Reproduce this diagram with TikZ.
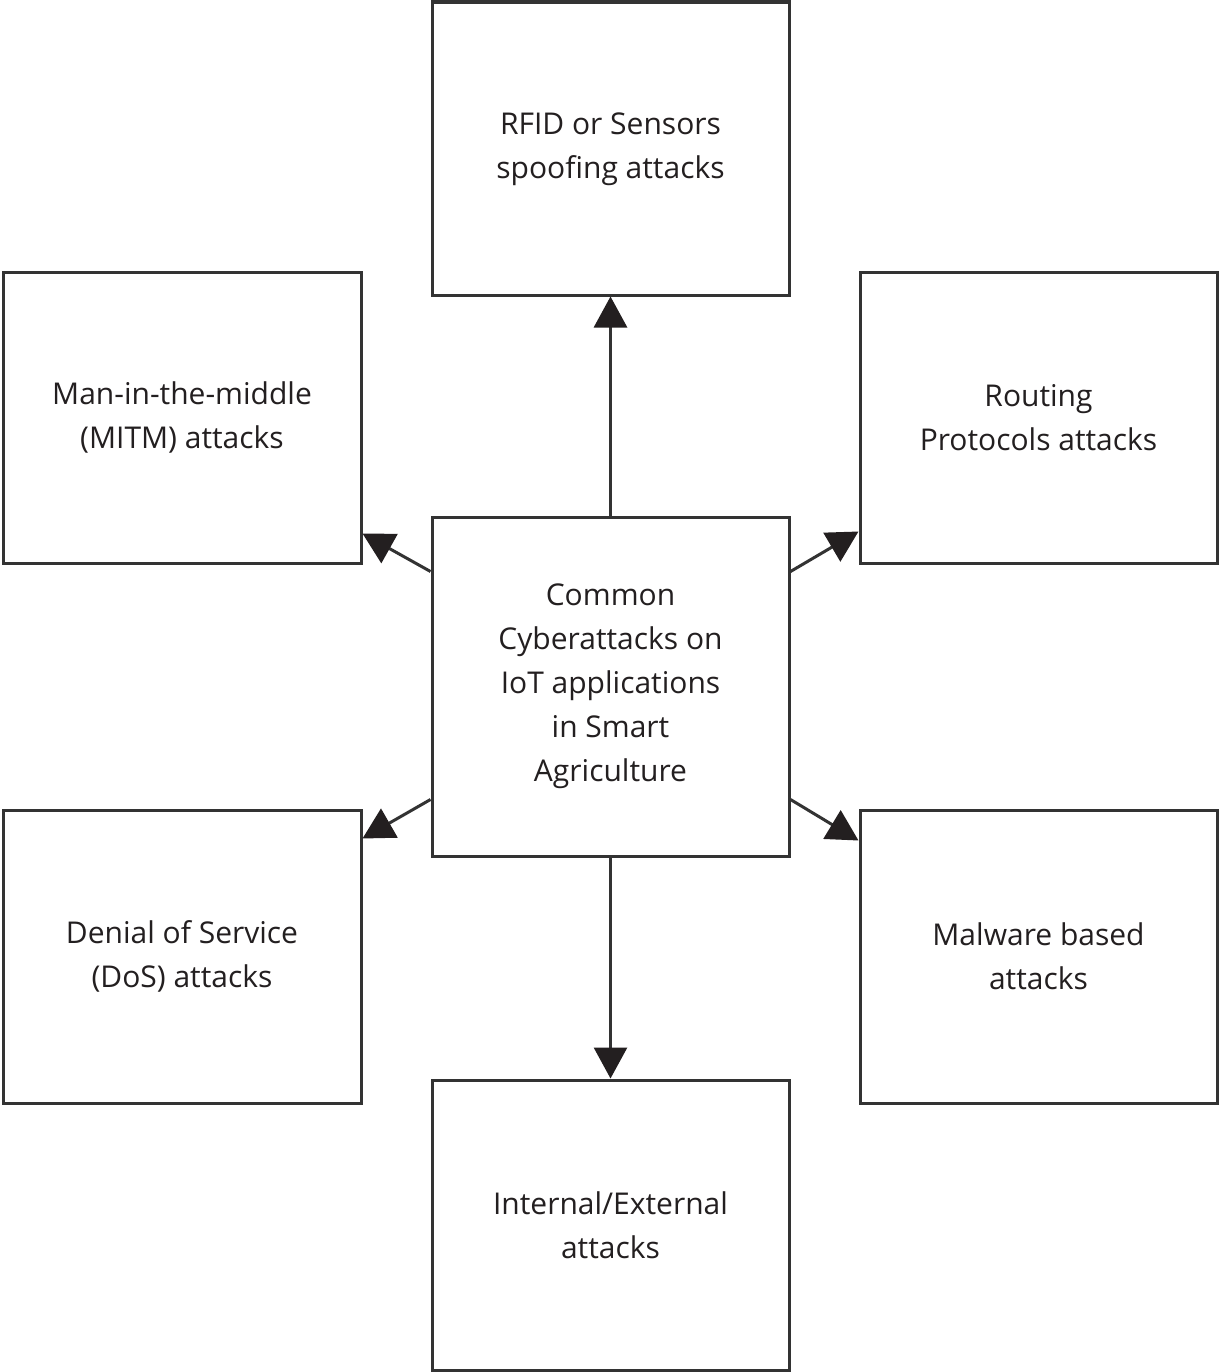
\documentclass[tikz,border=0pt]{standalone}
\usepackage{fontspec}
\setmainfont{Open Sans}
\usetikzlibrary{arrows.meta}
\definecolor{ink}{HTML}{231F20}
\definecolor{edge}{HTML}{333333}
\begin{document}
\begin{tikzpicture}[x=1pt,y=-1pt,
  attackbox/.style={draw=edge, line width=3pt, fill=white, align=center,
    minimum width=357pt, text=ink, inner sep=0pt,
    font=\fontsize{30}{44}\selectfont},
  link/.style={draw=edge, line width=3pt,
    -{Triangle[length=31pt,width=33pt,fill=ink,color=ink]}}]
\useasboundingbox (0,0) rectangle (1219,1372);
\fill[white] (0,0) rectangle (1219,1372);

% boxes
\node[attackbox, minimum height=292pt] (rfid) at (610.5,149) {RFID or Sensors\\spoofing attacks};
\node[attackbox, minimum height=291pt, minimum width=358pt] (mitm) at (182,417.5) {Man-in-the-middle\\(MITM) attacks};
\node[attackbox, minimum height=291pt] (routing) at (1038.5,417.5) {Routing\\Protocols attacks};
\node[attackbox, minimum height=339pt] (hub) at (610.5,686.5) {Common\\Cyberattacks on\\IoT applications\\in Smart\\Agriculture};
\node[attackbox, minimum height=293pt, minimum width=358pt] (dos) at (182,956.5) {Denial of Service\\(DoS) attacks};
\node[attackbox, minimum height=293pt] (malware) at (1038.5,956.5) {Malware based\\attacks};
\node[attackbox, minimum height=290pt] (ext) at (610.5,1225) {Internal/External\\attacks};

% heavier top rule of the upper box
\draw[edge, line width=6pt] (rfid.north west) -- (rfid.north east);

% connectors from the central box
\draw[link] (hub.north) -- (rfid.south);
\draw[link] (hub.south) -- (ext.north);
\draw[link] ([yshift=-56pt]hub.north west) -- ([yshift=31pt]mitm.south east);
\draw[link] ([yshift=-56pt]hub.north east) -- ([yshift=33pt]routing.south west);
\draw[link] ([yshift=58pt]hub.south west) -- ([yshift=-30pt]dos.north east);
\draw[link] ([yshift=58pt]hub.south east) -- ([yshift=-32pt]malware.north west);
\end{tikzpicture}
\end{document}
